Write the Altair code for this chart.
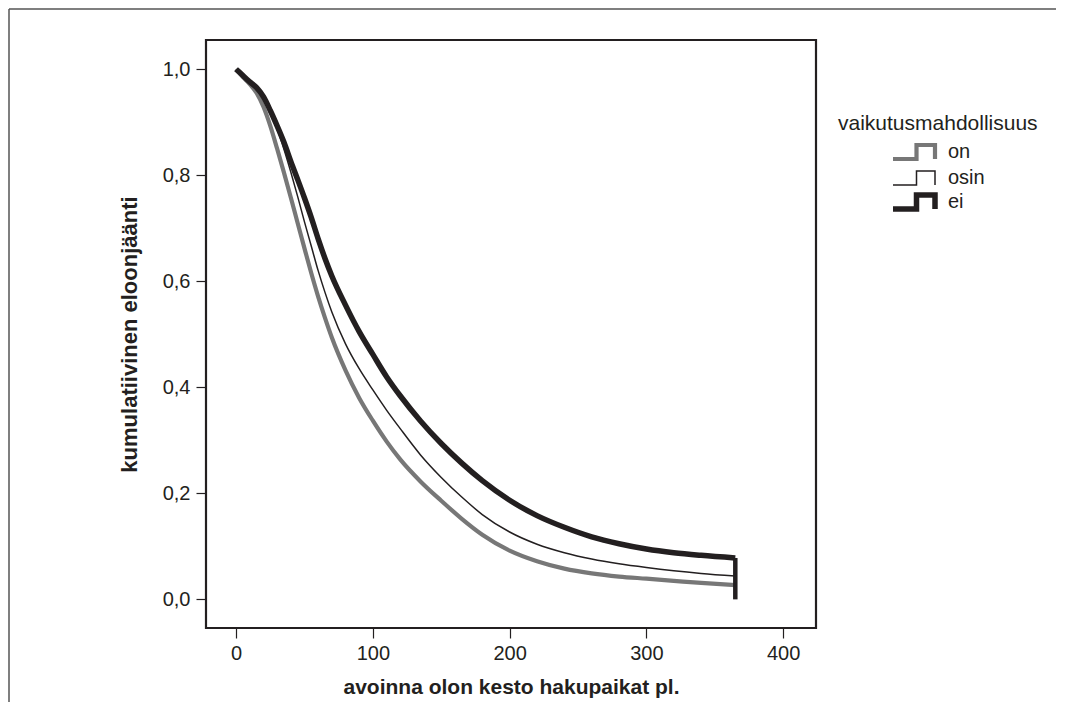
import altair as alt
import pandas as pd

# --- data (Kaplan-Meier style curves) ---
times = [0, 5, 10, 15, 20, 25, 30, 35, 40, 45, 50, 55, 60, 65, 70, 80, 90, 100, 110, 120,
         135, 150, 165, 180, 200, 220, 240, 260, 280, 300, 320, 340, 365]
on_surv = [1.0, 0.985, 0.972, 0.955, 0.929, 0.893, 0.850, 0.805, 0.758, 0.710, 0.662, 0.615,
           0.571, 0.531, 0.494, 0.432, 0.380, 0.337, 0.298, 0.264, 0.222, 0.186, 0.152, 0.122,
           0.092, 0.072, 0.058, 0.049, 0.043, 0.039, 0.035, 0.031, 0.027]
osin_surv = [1.0, 0.987, 0.975, 0.962, 0.946, 0.918, 0.887, 0.849, 0.806, 0.760, 0.712, 0.666,
             0.620, 0.579, 0.542, 0.482, 0.435, 0.395, 0.357, 0.322, 0.272, 0.230, 0.193, 0.160,
             0.127, 0.104, 0.088, 0.076, 0.067, 0.060, 0.054, 0.049, 0.044]
ei_surv = [1.0, 0.988, 0.976, 0.965, 0.948, 0.922, 0.893, 0.862, 0.826, 0.792, 0.757, 0.720,
           0.680, 0.643, 0.610, 0.555, 0.505, 0.462, 0.420, 0.384, 0.336, 0.294, 0.257, 0.224,
           0.187, 0.158, 0.136, 0.118, 0.105, 0.095, 0.088, 0.083, 0.078]
end_time = 365
end_drop_to = 0.0
groups = ["on", "osin", "ei"]
x_ticks = [0, 100, 200, 300, 400]
y_ticks = [0.0, 0.2, 0.4, 0.6, 0.8, 1.0]

rows = []
for g, s in zip(groups, [on_surv, osin_surv, ei_surv]):
    for i, (t, v) in enumerate(zip(times, s)):
        rows.append({"aika": t, "eloonjaanti": v, "ryhma": g, "jarj": i})
df = pd.DataFrame(rows)
drop_df = pd.DataFrame({"aika": [end_time], "ylä": [ei_surv[-1]], "ala": [end_drop_to]})

FONT = "Liberation Sans"
INK = "#231f20"
GREY = "#777777"
SYM = "M-4.2,1.4L0.5,1.4L0.5,-1.4L4.2,-1.4L4.2,1.4"

legend = alt.Legend(
    title="vaikutusmahdollisuus", orient="none", legendX=632, legendY=73,
    symbolType=SYM, symbolSize=100, symbolOffset=66, labelOffset=24,
    symbolFillColor="transparent", titleLimit=400, labelLimit=200,
    titleFontSize=21, titleFontWeight="normal", titleFont=FONT, titleColor=INK,
    titlePadding=8, labelFontSize=20, labelFont=FONT, labelColor=INK,
    rowPadding=-4, padding=0,
)

color = alt.Color("ryhma:N", scale=alt.Scale(domain=groups, range=[GREY, INK, INK]),
                  legend=legend)
width_enc = alt.StrokeWidth("ryhma:N",
                            scale=alt.Scale(type="ordinal", domain=groups, range=[4.2, 1.5, 5.5]),
                            legend=legend)

x_scale = alt.Scale(domain=[-22, 424], nice=False, zero=False)
y_scale = alt.Scale(domain=[-0.054, 1.055], nice=False, zero=False)

x_enc = alt.X("aika:Q", scale=x_scale,
              axis=alt.Axis(values=x_ticks, title="avoinna olon kesto hakupaikat pl.",
                            domain=False, grid=False, tickSize=10, tickColor=INK, tickWidth=1.2,
                            labelFontSize=20, labelFont=FONT, labelColor=INK, labelPadding=5,
                            labelFlush=False, titleFontSize=21, titleFont=FONT,
                            titleFontWeight="bold", titleColor=INK, titlePadding=13))
y_enc = alt.Y("eloonjaanti:Q", scale=y_scale,
              axis=alt.Axis(values=y_ticks, title="kumulatiivinen eloonjäänti",
                            labelExpr="replace(format(datum.value, '.1f'), '.', ',')",
                            domain=False, grid=False, tickSize=10, tickColor=INK, tickWidth=1.2,
                            labelFontSize=20, labelFont=FONT, labelColor=INK, labelPadding=6,
                            labelFlush=False, titleFontSize=22, titleFont=FONT,
                            titleFontWeight="bold", titleColor=INK, titlePadding=21))

base = alt.Chart(df).mark_line(interpolate="monotone", strokeJoin="miter", strokeCap="butt").encode(
    x=x_enc, y=y_enc, color=color, strokeWidth=width_enc, order="jarj:Q"
)

layers = [base.transform_filter(alt.datum.ryhma == g) for g in ["on", "ei", "osin"]]

drop = alt.Chart(drop_df).mark_rule(color=INK, strokeWidth=4.5).encode(
    x=alt.X("aika:Q", scale=x_scale), y=alt.Y("ylä:Q", scale=y_scale), y2="ala:Q")

frame_df = pd.DataFrame({"a": [0]})
top_rule = alt.Chart(frame_df).mark_rule(color="#555555", strokeWidth=1.5).encode(
    x=alt.value(-197), x2=alt.value(850), y=alt.value(-31))
left_rule = alt.Chart(frame_df).mark_rule(color="#555555", strokeWidth=1.5).encode(
    x=alt.value(-197), y=alt.value(-31), y2=alt.value(662))

chart = alt.layer(*layers, drop, top_rule, left_rule).properties(
    width=610, height=588, autosize="none",
    padding={"left": 198, "top": 32, "right": 240, "bottom": 80},
    background="white",
).configure_view(stroke=INK, strokeWidth=2.2)

chart.save("out.html", embed_options={"renderer": "svg", "actions": False})
